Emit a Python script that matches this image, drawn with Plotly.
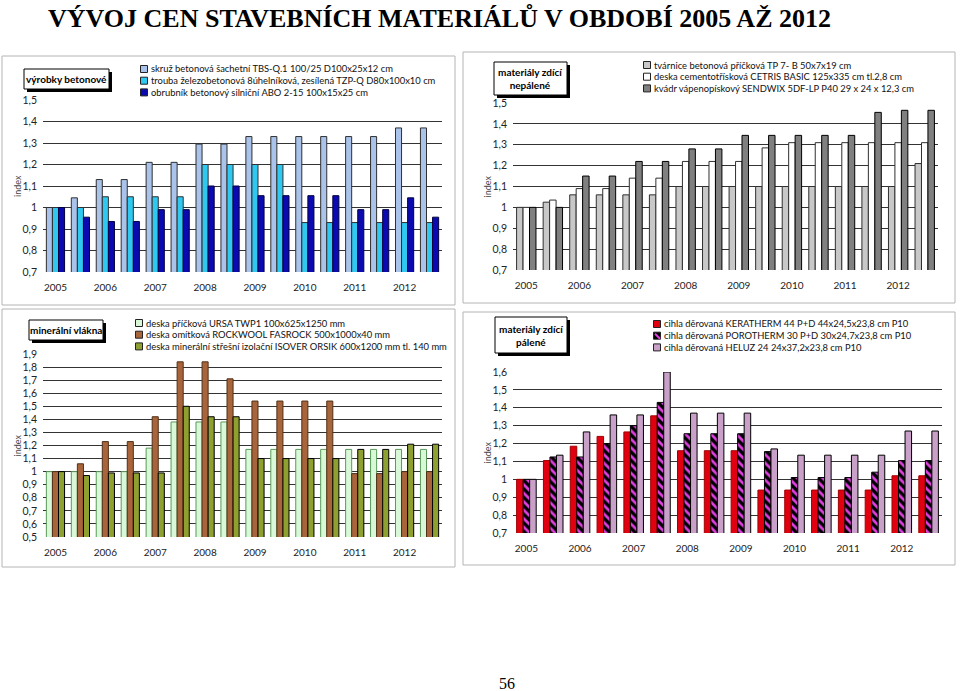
import plotly.graph_objects as go

# half-year periods, labelled by year on every other category
periods = ["I/2005", "II/2005", "I/2006", "II/2006", "I/2007", "II/2007", "I/2008", "II/2008",
           "I/2009", "II/2009", "I/2010", "II/2010", "I/2011", "II/2011", "I/2012", "II/2012"]
tick_periods = ["I/2005", "I/2006", "I/2007", "I/2008", "I/2009", "I/2010", "I/2011", "I/2012"]
tick_years = ["2005", "2006", "2007", "2008", "2009", "2010", "2011", "2012"]

# výrobky betonové
skruz = [1.0, 1.045, 1.13, 1.13, 1.21, 1.21, 1.295, 1.295, 1.33, 1.33, 1.33, 1.33, 1.33, 1.33, 1.37, 1.37]
trouba = [1.0, 1.0, 1.05, 1.05, 1.05, 1.05, 1.2, 1.2, 1.2, 1.2, 0.93, 0.93, 0.93, 0.93, 0.93, 0.93]
obrubnik = [1.0, 0.955, 0.935, 0.935, 0.99, 0.99, 1.1, 1.1, 1.055, 1.055, 1.055, 1.055, 0.99, 0.99, 1.045, 0.955]

# materiály zdící nepálené
tvarnice = [1.0, 1.025, 1.06, 1.06, 1.06, 1.06, 1.1, 1.1, 1.1, 1.1, 1.1, 1.1, 1.1, 1.1, 1.1, 1.21]
cetris = [1.0, 1.035, 1.09, 1.09, 1.14, 1.14, 1.22, 1.22, 1.22, 1.285, 1.31, 1.31, 1.31, 1.31, 1.31, 1.31]
sendwix = [1.0, 1.0, 1.15, 1.15, 1.22, 1.22, 1.28, 1.28, 1.345, 1.345, 1.345, 1.345, 1.345, 1.455, 1.465, 1.465]

# minerální vlákna
ursa = [1.0, 1.0, 1.0, 1.0, 1.18, 1.38, 1.38, 1.38, 1.17, 1.17, 1.17, 1.17, 1.17, 1.17, 1.17, 1.17]
rockwool = [1.0, 1.06, 1.23, 1.23, 1.42, 1.84, 1.84, 1.71, 1.54, 1.54, 1.54, 1.54, 0.985, 0.985, 1.0, 1.0]
isover = [1.0, 0.97, 0.99, 0.99, 0.99, 1.5, 1.42, 1.42, 1.1, 1.1, 1.1, 1.1, 1.17, 1.17, 1.21, 1.21]

# materiály zdící pálené
keratherm = [1.0, 1.105, 1.185, 1.24, 1.265, 1.355, 1.16, 1.16, 1.16, 0.94, 0.94, 0.94, 0.94, 0.94, 1.02, 1.02]
porotherm = [1.0, 1.125, 1.125, 1.2, 1.3, 1.43, 1.255, 1.255, 1.255, 1.155, 1.01, 1.01, 1.01, 1.04, 1.105, 1.105]
heluz = [1.0, 1.135, 1.265, 1.36, 1.36, 1.6, 1.37, 1.37, 1.37, 1.17, 1.135, 1.135, 1.135, 1.135, 1.27, 1.27]

W, H = 960, 691
SANS = "Lato"


def px(x):
    return x / W


def py(y):
    return 1 - y / H


panels = [
    dict(ax="", series=[skruz, trouba, obrubnik],
         names=["skruž betonová šachetní TBS-Q.1 100/25 D100x25x12 cm",
                "trouba železobetonová 8úhelníková, zesílená TZP-Q D80x100x10 cm",
                "obrubník betonový silniční ABO 2-15 100x15x25 cm"],
         colors=["#a9c3ea", "#2ec8f0", "#0a0ab0"],
         lines=["#303030", "#303030", "#000040"],
         yr=[0.7, 1.5], plot=(43, 100, 442, 272), frame=(2, 56, 455, 305),
         label=(24, 69, 109, 89), label_text="výrobky betonové",
         leg=(144, 69)),
    dict(ax="2", series=[tvarnice, cetris, sendwix],
         names=["tvárnice betonová příčková TP 7- B 50x7x19 cm",
                "deska cementotřísková CETRIS BASIC 125x335 cm tl.2,8 cm",
                "kvádr vápenopískový SENDWIX 5DF-LP P40 29 x 24 x 12,3 cm"],
         colors=["#c8c8c8", "#ffffff", "#808080"],
         lines=["#303030", "#303030", "#000000"],
         yr=[0.7, 1.5], plot=(513, 103, 938, 270), frame=(463, 52, 955, 303),
         label=(494, 62, 567, 95), label_text="materiály zdící<br>nepálené",
         leg=(647, 65)),
    dict(ax="3", series=[ursa, rockwool, isover],
         names=["deska příčková URSA TWP1 100x625x1250 mm",
                "deska omítková ROCKWOOL FASROCK 500x1000x40 mm",
                "deska minerální střešní izolační ISOVER ORSIK 600x1200 mm tl. 140 mm"],
         colors=["#d8f8d8", "#a8643a", "#8ea030"],
         lines=["#5a9a5a", "#503018", "#000000"],
         yr=[0.5, 1.9], plot=(43, 354, 442, 537), frame=(2, 309, 455, 567),
         label=(29, 320, 103, 340), label_text="minerální vlákna",
         leg=(139, 323)),
    dict(ax="4", series=[keratherm, porotherm, heluz],
         names=["cihla děrovaná KERATHERM 44 P+D 44x24,5x23,8 cm P10",
                "cihla děrovaná POROTHERM 30 P+D 30x24,7x23,8 cm P10",
                "cihla děrovaná HELUZ 24 24x37,2x23,8 cm P10"],
         colors=["#e00010", "#000000", "#c8a0c8"],
         lines=["#a00000", "#000000", "#000000"],
         yr=[0.7, 1.6], plot=(513, 372, 942, 533), frame=(463, 312, 955, 565),
         label=(495, 317, 567, 353), label_text="materiály zdící<br>pálené",
         leg=(657, 324)),
]

fig = go.Figure()
shapes = []
annotations = []

for p in panels:
    xa = "x" + p["ax"]
    ya = "y" + p["ax"]
    for i, (vals, name, col, lc) in enumerate(zip(p["series"], p["names"], p["colors"], p["lines"])):
        marker = dict(color=col, line=dict(color=lc, width=1))
        if name.startswith("cihla děrovaná POROTHERM"):
            marker["pattern"] = dict(shape="\\", fgcolor="#e040e0", bgcolor="#000000",
                                     size=6, solidity=0.45)
        fig.add_trace(go.Bar(x=periods, y=vals, name=name, marker=marker,
                             xaxis=xa, yaxis=ya, showlegend=False,
                             offsetgroup=str(i)))

    x0, y0, x1, y1 = p["plot"]
    xkey = "xaxis" + p["ax"]
    ykey = "yaxis" + p["ax"]
    fig.layout[xkey] = dict(domain=[px(x0), px(x1)], anchor=ya, type="category",
                            categoryorder="array", categoryarray=periods,
                            tickvals=tick_periods, ticktext=tick_years,
                            showgrid=False, showline=False, zeroline=False,
                            ticks="", ticklabelstandoff=8, automargin=False,
                            tickfont=dict(family=SANS, size=10, color="#222"))
    fig.layout[ykey] = dict(domain=[py(y1), py(y0)], anchor=xa, range=p["yr"],
                            tick0=p["yr"][0], dtick=0.1, showgrid=True,
                            gridcolor="#333", gridwidth=1, zeroline=False,
                            showline=False, ticks="", ticklabelstandoff=5, automargin=False,
                            tickfont=dict(family=SANS, size=10.5, color="#222"))

    # y-axis title
    annotations.append(dict(text="index", x=px(x0 - 26), y=py((y0 + y1) / 2),
                            xref="paper", yref="paper", textangle=-90, showarrow=False,
                            xanchor="center", yanchor="middle",
                            font=dict(family=SANS, size=9, color="#444")))

    # panel frame
    fx0, fy0, fx1, fy1 = p["frame"]
    shapes.append(dict(type="rect", xref="paper", yref="paper", x0=px(fx0), x1=px(fx1),
                       y0=py(fy1), y1=py(fy0), line=dict(color="#b4b4b4", width=1),
                       layer="below"))

    # label box with shadow
    lx0, ly0, lx1, ly1 = p["label"]
    shapes.append(dict(type="rect", xref="paper", yref="paper", x0=px(lx0 + 3), x1=px(lx1 + 3),
                       y0=py(ly1 + 3), y1=py(ly0 + 3), line=dict(width=0), fillcolor="#000"))
    shapes.append(dict(type="rect", xref="paper", yref="paper", x0=px(lx0), x1=px(lx1),
                       y0=py(ly1), y1=py(ly0), line=dict(color="#000", width=1),
                       fillcolor="#fff"))
    annotations.append(dict(text="<b>" + p["label_text"] + "</b>", x=px((lx0 + lx1) / 2),
                            y=py((ly0 + ly1) / 2), xref="paper", yref="paper",
                            xanchor="center", yanchor="middle",
                            showarrow=False, align="center",
                            font=dict(family=SANS, size=10, color="#000")))

    # legend
    mx, my = p["leg"]
    for i, (name, col) in enumerate(zip(p["names"], p["colors"])):
        cy = my + i * 11.7
        shapes.append(dict(type="rect", xref="paper", yref="paper", x0=px(mx - 3.5),
                           x1=px(mx + 3.5), y0=py(cy + 3.5), y1=py(cy - 3.5),
                           fillcolor=col, line=dict(color="#222", width=1)))
        if name.startswith("cihla děrovaná POROTHERM"):
            shapes.append(dict(type="line", xref="paper", yref="paper", x0=px(mx - 2),
                               x1=px(mx + 3), y0=py(cy - 2), y1=py(cy + 3),
                               line=dict(color="#e040e0", width=2)))
        annotations.append(dict(text=name, x=px(mx + 5), y=py(cy), xref="paper", yref="paper",
                                xanchor="left", yanchor="middle", showarrow=False,
                                font=dict(family=SANS, size=9.4, color="#111")))

annotations.append(dict(text="<b>VÝVOJ CEN STAVEBNÍCH MATERIÁLŮ V OBDOBÍ 2005 AŽ 2012</b>",
                        x=px(439), y=py(18), xref="paper", yref="paper", showarrow=False,
                        xanchor="center", yanchor="middle",
                        font=dict(family="Liberation Serif", size=26, color="#000")))
annotations.append(dict(text="56", x=px(507), y=py(683), xref="paper", yref="paper",
                        showarrow=False, xanchor="center", yanchor="middle",
                        font=dict(family="Liberation Serif", size=16, color="#000")))

fig.update_layout(template="none", width=W, height=H,
                  margin=dict(l=0, r=0, t=0, b=0, pad=0, autoexpand=False),
                  paper_bgcolor="#fff", plot_bgcolor="rgba(0,0,0,0)",
                  barmode="group", bargap=0.27, bargroupgap=0,
                  separators=", ", shapes=shapes, annotations=annotations,
                  font=dict(family=SANS))

# no page margin and no toolbar, so the figure fills the window exactly
fig.write_html("out.html", config={"displayModeBar": False},
               post_script="document.body.style.margin='0';")
